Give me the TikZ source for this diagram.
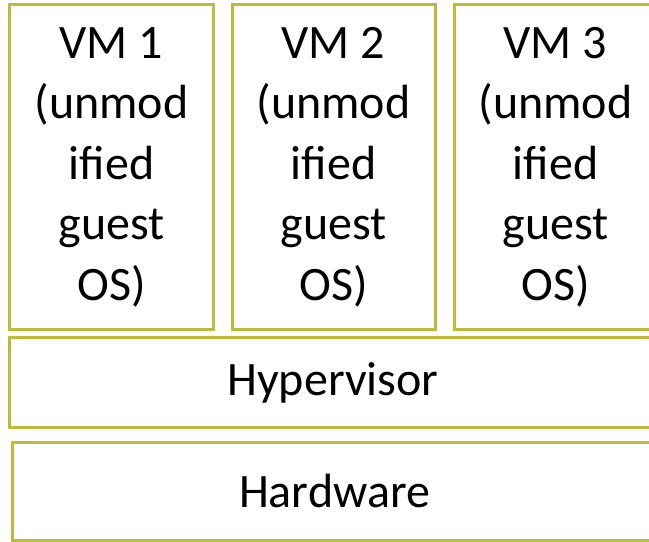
\documentclass[tikz,border=0pt]{standalone}
\usepackage{fontspec}
\setmainfont{Carlito}
\usetikzlibrary{positioning}
\definecolor{boxColor}{HTML}{BBBC3A}
\definecolor{labelTextColor}{HTML}{000000}
\def\textVMA{VM 1\\(unmod\\ified\\guest\\OS)}
\def\textVMB{VM 2\\(unmod\\ified\\guest\\OS)}
\def\textVMC{VM 3\\(unmod\\ified\\guest\\OS)}
\def\textHyp{Hypervisor}
\def\textHw{Hardware}
\tikzset{
layerbox/.style={draw=boxColor, line width=3bp, inner sep=0pt, text=labelTextColor,
font=\fontsize{48bp}{60.5bp}\selectfont, align=center},
}

\begin{document}
\begin{tikzpicture}[x=1bp,y=-1bp]

% margin
\useasboundingbox (0, 0) rectangle (649, 542);
\clip (0, 0) rectangle (649, 542);

% vm layer
\begin{scope}
\node[layerbox, minimum width=203bp, minimum height=324bp] (vmA) at (111.5, 167) {\textVMA};
\node[layerbox, minimum width=203bp, minimum height=324bp] (vmB) at (333.5, 167) {\textVMB};
\node[layerbox, minimum width=203bp, minimum height=324bp] (vmC) at (555.5, 167) {\textVMC};
\end{scope}

% hypervisor layer
\begin{scope}
\node[layerbox, minimum width=646bp, minimum height=90bp] (hyp) at (333, 382.5) {\textHyp};
\end{scope}

% hardware layer
\begin{scope}
\node[layerbox, minimum width=643bp, minimum height=98bp] (hw) at (334.5, 491) {\textHw};
\end{scope}

\end{tikzpicture}
\end{document}
